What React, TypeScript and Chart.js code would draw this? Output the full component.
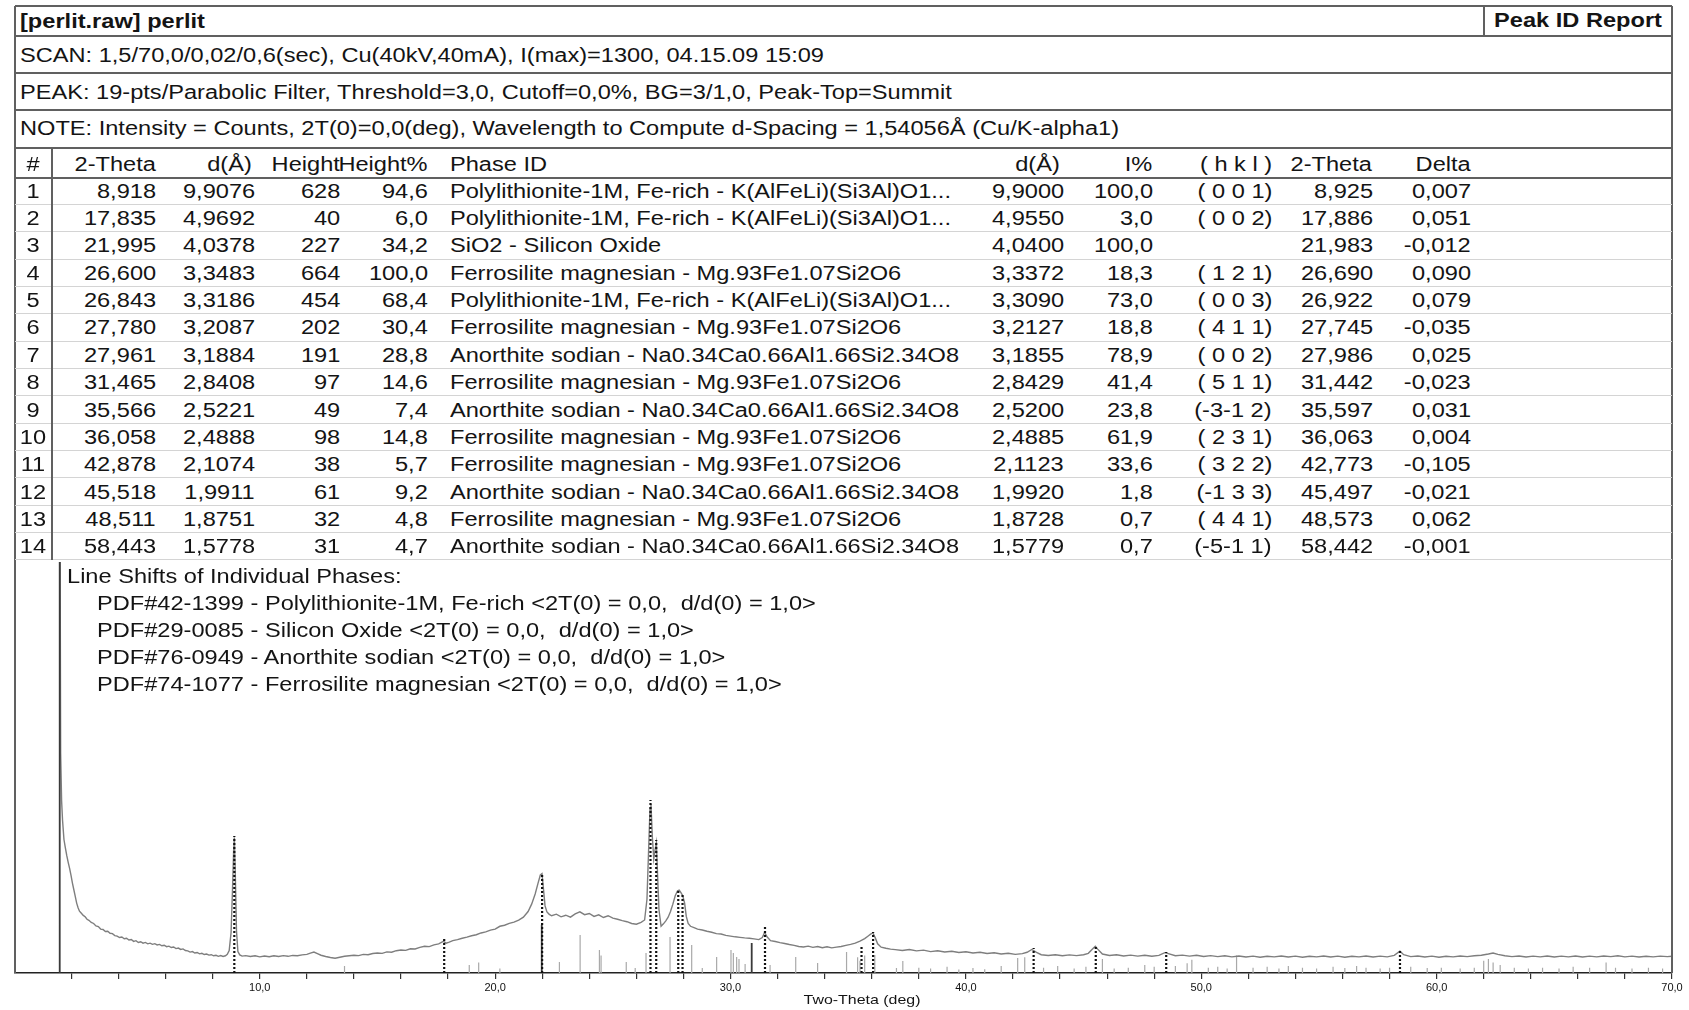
import React, { useEffect, useRef } from "react";
import { Chart, registerables } from "chart.js";

Chart.register(...registerables);

// ---------- report text ----------
const reportTitle = "[perlit.raw] perlit";
const reportKind = "Peak ID Report";
const headerLines = [
  "SCAN: 1,5/70,0/0,02/0,6(sec), Cu(40kV,40mA), I(max)=1300, 04.15.09 15:09",
  "PEAK: 19-pts/Parabolic Filter, Threshold=3,0, Cutoff=0,0%, BG=3/1,0, Peak-Top=Summit",
  "NOTE: Intensity = Counts, 2T(0)=0,0(deg), Wavelength to Compute d-Spacing = 1,54056Å (Cu/K-alpha1)",
];
const columnHeaders = ["#", "2-Theta", "d(Å)", "Height", "Height%", "Phase ID", "d(Å)", "I%", "( h k l )", "2-Theta", "Delta"];

// ---------- peak table ----------
const peakTheta = [8.918, 17.835, 21.995, 26.6, 26.843, 27.78, 27.961, 31.465, 35.566, 36.058, 42.878, 45.518, 48.511, 58.443];
const peakD = [9.9076, 4.9692, 4.0378, 3.3483, 3.3186, 3.2087, 3.1884, 2.8408, 2.5221, 2.4888, 2.1074, 1.9911, 1.8751, 1.5778];
const peakHeight = [628, 40, 227, 664, 454, 202, 191, 97, 49, 98, 38, 61, 32, 31];
const peakHeightPct = [94.6, 6.0, 34.2, 100.0, 68.4, 30.4, 28.8, 14.6, 7.4, 14.8, 5.7, 9.2, 4.8, 4.7];
const POLY = "Polylithionite-1M, Fe-rich - K(AlFeLi)(Si3Al)O1...";
const FERRO = "Ferrosilite magnesian - Mg.93Fe1.07Si2O6";
const ANOR = "Anorthite sodian - Na0.34Ca0.66Al1.66Si2.34O8";
const peakPhase = [POLY, POLY, "SiO2 - Silicon Oxide", FERRO, POLY, FERRO, ANOR, FERRO, ANOR, FERRO, FERRO, ANOR, FERRO, ANOR];
const refD = [9.9, 4.955, 4.04, 3.3372, 3.309, 3.2127, 3.1855, 2.8429, 2.52, 2.4885, 2.1123, 1.992, 1.8728, 1.5779];
const refIPct = [100.0, 3.0, 100.0, 18.3, 73.0, 18.8, 78.9, 41.4, 23.8, 61.9, 33.6, 1.8, 0.7, 0.7];
const refHkl = ["( 0 0 1)", "( 0 0 2)", "", "( 1 2 1)", "( 0 0 3)", "( 4 1 1)", "( 0 0 2)", "( 5 1 1)", "(-3-1 2)", "( 2 3 1)", "( 3 2 2)", "(-1 3 3)", "( 4 4 1)", "(-5-1 1)"];
const refTheta = [8.925, 17.886, 21.983, 26.69, 26.922, 27.745, 27.986, 31.442, 35.597, 36.063, 42.773, 45.497, 48.573, 58.442];
const refDelta = [0.007, 0.051, -0.012, 0.09, 0.079, -0.035, 0.025, -0.023, 0.031, 0.004, -0.105, -0.021, 0.062, -0.001];
// background level under each identified peak (counts); marker top = background + height
const peakBackground = [152, 165, 342, 321, 303, 271, 253, 165, 110, 135, 104, 98, 88, 94];

const lineShiftTitle = "Line Shifts of Individual Phases:";
const lineShifts = [
  "PDF#42-1399 - Polylithionite-1M, Fe-rich <2T(0) = 0,0,  d/d(0) = 1,0>",
  "PDF#29-0085 - Silicon Oxide <2T(0) = 0,0,  d/d(0) = 1,0>",
  "PDF#76-0949 - Anorthite sodian <2T(0) = 0,0,  d/d(0) = 1,0>",
  "PDF#74-1077 - Ferrosilite magnesian <2T(0) = 0,0,  d/d(0) = 1,0>",
];

// ---------- measured scan (2-theta, counts) ----------
const scanLowAngle: [number, number][] = [
  [1.5, 3200], [1.54, 1250], [1.58, 980], [1.62, 870], [1.68, 760], [1.74, 712], [1.8, 668], [1.86, 630], [1.92, 596], [1.98, 556],
  [2.04, 512], [2.1, 474], [2.16, 436], [2.22, 398], [2.28, 372], [2.34, 352], [2.42, 340], [2.5, 328], [2.58, 320], [2.66, 306],
  [2.74, 300], [2.84, 288], [2.94, 282], [3.04, 268], [3.14, 264], [3.24, 250], [3.34, 248], [3.44, 236], [3.54, 238], [3.64, 226],
  [3.74, 224], [3.84, 213], [3.94, 210], [4.04, 202], [4.14, 205], [4.24, 195], [4.34, 198], [4.44, 188], [4.54, 191], [4.64, 180],
  [4.74, 184], [4.84, 174], [4.94, 178], [5.04, 170], [5.14, 174], [5.24, 166], [5.34, 170], [5.44, 163], [5.54, 167], [5.64, 160],
  [5.74, 163], [5.84, 155], [5.94, 158], [6.04, 150], [6.14, 153], [6.24, 145], [6.34, 148], [6.44, 139], [6.54, 142], [6.64, 134],
  [6.74, 137], [6.84, 128], [6.94, 126], [7.04, 119], [7.14, 122], [7.24, 114], [7.34, 117], [7.44, 109], [7.54, 112], [7.64, 105],
  [7.74, 108], [7.84, 102], [7.94, 104], [8.04, 98], [8.14, 101], [8.24, 95], [8.34, 99], [8.44, 94], [8.54, 98], [8.62, 106],
  [8.7, 128], [8.78, 230], [8.84, 470], [8.89, 700], [8.92, 772], [8.96, 560], [9.01, 240], [9.07, 122], [9.15, 103], [9.25, 96],
];
const scanTo22: [number, number][] = [
  [9.4, 99], [9.6, 94], [9.8, 98], [10.0, 92], [10.2, 97], [10.4, 93], [10.6, 98], [10.8, 94], [11.0, 99], [11.2, 95],
  [11.4, 100], [11.6, 98], [11.8, 103], [12.0, 106], [12.15, 113], [12.3, 119], [12.45, 110], [12.6, 101], [12.8, 94], [13.0, 88],
  [13.2, 84], [13.4, 90], [13.6, 95], [13.8, 98], [14.0, 101], [14.2, 99], [14.4, 106], [14.6, 104], [14.8, 111], [15.0, 114],
  [15.2, 112], [15.4, 120], [15.6, 118], [15.8, 127], [16.0, 131], [16.2, 129], [16.4, 138], [16.6, 137], [16.8, 146], [17.0, 152],
  [17.2, 150], [17.4, 160], [17.6, 166], [17.8, 180], [17.92, 170], [18.05, 176], [18.2, 184], [18.4, 190], [18.6, 198], [18.8, 204],
  [19.0, 212], [19.2, 218], [19.4, 228], [19.6, 234], [19.8, 244], [20.0, 250], [20.2, 266], [20.4, 272], [20.6, 283], [20.8, 290],
  [21.0, 301], [21.2, 318], [21.4, 350], [21.55, 392], [21.7, 450], [21.82, 510], [21.92, 558], [21.99, 566], [22.05, 482], [22.12, 382],
  [22.2, 348], [22.3, 334],
];
const scanTo37: [number, number][] = [
  [22.4, 326], [22.6, 335], [22.8, 320], [23.0, 329], [23.2, 318], [23.4, 337], [23.6, 348], [23.8, 332], [24.0, 339], [24.2, 322],
  [24.4, 331], [24.6, 316], [24.8, 326], [25.0, 312], [25.2, 306], [25.4, 298], [25.6, 292], [25.8, 282], [26.0, 278], [26.2, 288],
  [26.35, 302], [26.45, 420], [26.52, 700], [26.58, 940], [26.62, 962], [26.68, 770], [26.74, 650], [26.8, 705], [26.85, 742], [26.9, 560],
  [26.96, 360], [27.05, 266], [27.15, 280], [27.25, 297], [27.35, 318], [27.45, 350], [27.55, 392], [27.65, 440], [27.75, 468], [27.82, 472],
  [27.9, 456], [27.97, 440], [28.05, 398], [28.12, 322], [28.2, 282], [28.3, 266], [28.45, 258], [28.6, 250], [28.8, 245], [29.0, 238],
  [29.2, 232], [29.4, 224], [29.6, 222], [29.8, 214], [30.0, 210], [30.2, 206], [30.4, 203], [30.6, 200], [30.8, 198], [31.0, 194],
  [31.2, 190], [31.35, 202], [31.45, 232], [31.55, 206], [31.7, 184], [31.9, 179], [32.1, 173], [32.3, 168], [32.5, 162], [32.7, 157],
  [32.9, 151], [33.1, 148], [33.3, 153], [33.5, 146], [33.7, 151], [33.9, 144], [34.1, 149], [34.3, 143], [34.5, 147], [34.7, 151],
  [34.9, 157], [35.1, 163], [35.3, 170], [35.5, 182], [35.6, 189], [35.7, 196], [35.85, 211], [35.95, 221], [36.05, 228], [36.15, 200],
  [36.25, 166], [36.4, 147], [36.6, 141], [36.8, 136], [37.0, 133],
];
const scanTo70: [number, number][] = [
  [37.3, 128], [37.6, 134], [37.9, 126], [38.2, 130], [38.5, 122], [38.8, 127], [39.1, 120], [39.4, 124], [39.7, 117], [40.0, 121],
  [40.3, 114], [40.6, 118], [40.9, 111], [41.2, 115], [41.5, 108], [41.8, 112], [42.1, 106], [42.4, 110], [42.6, 118], [42.8, 134],
  [43.0, 118], [43.2, 104], [43.5, 100], [43.8, 104], [44.1, 98], [44.4, 103], [44.7, 99], [45.0, 104], [45.2, 112], [45.4, 140],
  [45.5, 152], [45.6, 136], [45.8, 108], [46.1, 100], [46.4, 104], [46.7, 97], [47.0, 102], [47.3, 96], [47.6, 101], [47.9, 95],
  [48.2, 100], [48.45, 116], [48.6, 110], [48.9, 98], [49.2, 102], [49.5, 96], [49.8, 101], [50.1, 94], [50.4, 99], [50.7, 93],
  [51.0, 98], [51.3, 92], [51.6, 97], [51.9, 91], [52.2, 96], [52.5, 90], [52.8, 95], [53.1, 92], [53.4, 97], [53.7, 91],
  [54.0, 96], [54.3, 90], [54.6, 95], [54.9, 92], [55.2, 97], [55.5, 91], [55.8, 96], [56.1, 90], [56.4, 95], [56.7, 92],
  [57.0, 97], [57.3, 91], [57.6, 96], [57.9, 92], [58.2, 100], [58.44, 124], [58.6, 104], [58.9, 93], [59.2, 97], [59.5, 91],
  [59.8, 96], [60.1, 90], [60.4, 95], [60.7, 92], [61.0, 97], [61.3, 93], [61.6, 98], [61.9, 101], [62.2, 108], [62.4, 114],
  [62.6, 106], [62.9, 98], [63.2, 93], [63.5, 97], [63.8, 91], [64.1, 96], [64.4, 92], [64.7, 97], [65.0, 91], [65.3, 96],
  [65.6, 92], [65.9, 97], [66.2, 91], [66.5, 96], [66.8, 92], [67.1, 97], [67.4, 93], [67.7, 98], [68.0, 92], [68.3, 96],
  [68.6, 91], [68.9, 95], [69.2, 92], [69.5, 96], [69.8, 93], [70.0, 95],
];

// ---------- reference pattern lines (2-theta, counts) ----------
const referenceLines: [number, number][] = [
  [13.6, 40], [18.9, 45], [19.3, 60], [20.2, 25], [22.73, 63], [23.61, 216], [24.43, 131], [24.5, 100], [25.57, 63], [25.95, 28],
  [26.41, 114], [27.43, 205], [28.35, 160], [28.8, 28], [29.41, 91], [30.02, 131], [30.12, 114], [30.26, 91], [30.36, 80], [30.62, 51],
  [31.68, 46], [32.77, 91], [33.7, 57], [34.93, 120], [35.4, 90], [35.5, 70], [35.7, 100], [36.13, 103], [37.05, 28], [37.32, 68],
  [38.0, 30], [38.5, 25], [39.2, 35], [39.7, 20], [40.3, 28], [40.8, 22], [41.5, 40], [42.2, 85], [42.5, 90], [43.3, 30],
  [43.9, 40], [44.6, 25], [45.1, 35], [45.8, 80], [46.3, 25], [46.9, 30], [47.6, 45], [48.0, 35], [48.9, 40], [49.4, 55],
  [49.6, 75], [50.3, 30], [50.7, 35], [51.1, 25], [51.5, 100], [52.2, 30], [52.8, 35], [53.3, 25], [53.7, 40], [54.3, 30],
  [54.9, 25], [55.6, 35], [56.1, 28], [56.6, 40], [57.0, 30], [57.6, 25], [58.0, 30], [58.9, 35], [59.6, 28], [60.2, 30],
  [61.0, 25], [61.6, 30], [62.0, 70], [62.2, 80], [62.4, 60], [62.7, 45], [63.3, 30], [63.9, 25], [64.5, 30], [65.2, 25],
  [65.8, 35], [66.5, 30], [67.2, 60], [67.6, 30], [68.3, 25], [69.0, 30], [69.6, 25],
];
const strongReferenceLines: [number, number][] = [[21.98, 274], [30.9, 171]];

// axis
const X_MIN = -0.4;
const X_MAX = 70;
const Y_MAX = 2340;
const tickValues = [2, 4, 6, 8, 10, 12, 14, 16, 18, 20, 22, 24, 26, 28, 30, 32, 34, 36, 38, 40, 42, 44, 46, 48, 50, 52, 54, 56, 58, 60, 62, 64, 66, 68, 70];

// ---------- layout ----------
const PAGE_W = 1689;
const PAGE_H = 1010;
const FONT = '"Liberation Sans", Arial, Helvetica, sans-serif';
const SX = 1.18;
const BOX_L = 15;
const BOX_R = 1672;
const BOX_T = 6;
const AXIS_Y = 973;
const ROW0_Y = 190.7;
const ROW_H = 27.35;
const RULE = "#606060";

const fmt = (v: number, d: number) => v.toFixed(d).replace(".", ",");

type Align = "left" | "right" | "center";
function Txt({ x, y, text, align = "left", bold = false, size = 20 }: { x: number; y: number; text: string; align?: Align; bold?: boolean; size?: number }) {
  const lh = Math.round(size * 1.2);
  const style: React.CSSProperties = {
    position: "absolute",
    top: y - lh / 2,
    height: lh,
    lineHeight: `${lh}px`,
    fontSize: size,
    fontFamily: FONT,
    fontWeight: bold ? 700 : 400,
    whiteSpace: "pre",
    color: "#141414",
  };
  if (align === "left") {
    style.left = x;
    style.transformOrigin = "left center";
    style.transform = `scaleX(${SX})`;
  } else if (align === "right") {
    style.right = PAGE_W - x;
    style.transformOrigin = "right center";
    style.transform = `scaleX(${SX})`;
  } else {
    style.left = x;
    style.transformOrigin = "center center";
    style.transform = `translateX(-50%) scaleX(${SX})`;
  }
  return <div style={style}>{text}</div>;
}

function HLine({ y, x1, x2, color = RULE, w = 1.5 }: { y: number; x1: number; x2: number; color?: string; w?: number }) {
  return <div style={{ position: "absolute", left: x1, top: y - w / 2, width: x2 - x1, height: w, background: color }} />;
}
function VLine({ x, y1, y2, color = RULE, w = 1.5 }: { x: number; y1: number; y2: number; color?: string; w?: number }) {
  return <div style={{ position: "absolute", left: x - w / 2, top: y1, width: w, height: y2 - y1, background: color }} />;
}

const toSegments = (lines: [number, number][]) =>
  lines.flatMap(([x, h]) => [
    { x, y: 0 },
    { x, y: h },
    { x, y: null as number | null },
  ]);

const CANVAS_TOP = 555;
const CANVAS_H = PAGE_H - CANVAS_TOP;

export default function App() {
  const canvasRef = useRef<HTMLCanvasElement>(null);

  useEffect(() => {
    const canvas = canvasRef.current;
    if (!canvas) return;
    const profile = [...scanLowAngle, ...scanTo22, ...scanTo37, ...scanTo70];
    const profilePts = profile.map(([x, y]) => ({ x, y }));
    const scanEdge: [number, number] = [profile[0][0], profile[0][1]];
    const strongPts = toSegments([scanEdge, ...strongReferenceLines]);
    const stickPts = toSegments(referenceLines);
    const markerPts = toSegments(peakTheta.map((t, i) => [t, peakBackground[i] + peakHeight[i]] as [number, number]));

    const chart = new Chart(canvas, {
      type: "line",
      data: {
        datasets: [
          { label: "peaks", data: markerPts, borderColor: "#111", borderWidth: 2.2, borderDash: [2, 2], pointRadius: 0, spanGaps: false, order: 0 },
          { label: "strong lines", data: strongPts, borderColor: "#3a3a3a", borderWidth: 1.8, pointRadius: 0, spanGaps: false, order: 1 },
          { label: "scan", data: profilePts, borderColor: "#7e7e7e", borderWidth: 1.4, pointRadius: 0, tension: 0, order: 2 },
          { label: "reference lines", data: stickPts, borderColor: "#a9a9a9", borderWidth: 1.2, pointRadius: 0, spanGaps: false, order: 3 },
        ] as any,
      },
      options: {
        animation: false,
        responsive: false,
        events: [],
        layout: { padding: { left: BOX_L, right: PAGE_W - BOX_R, top: 562 - CANVAS_TOP, bottom: 0 } },
        plugins: { legend: { display: false }, tooltip: { enabled: false } },
        scales: {
          x: {
            type: "linear",
            min: X_MIN,
            max: X_MAX,
            afterBuildTicks: (s: any) => {
              s.ticks = tickValues.map((v) => ({ value: v }));
            },
            afterFit: (s: any) => {
              s.height = CANVAS_TOP + CANVAS_H - AXIS_Y;
            },
            ticks: {
              autoSkip: false,
              maxRotation: 0,
              minRotation: 0,
              padding: 2,
              color: "#111",
              font: { family: FONT, size: 11 },
              callback: (v: any) => (Number(v) % 10 === 0 ? fmt(Number(v), 1) : ""),
            },
            grid: { drawOnChartArea: false, drawTicks: true, tickLength: 6, color: "#333", lineWidth: 1.2 },
            border: { display: true, color: "#222", width: 1.6 },
          },
          y: { display: false, min: 0, max: Y_MAX },
        },
      } as any,
    });
    return () => chart.destroy();
  }, []);

  const headerXs: { x: number; align: Align }[] = [
    { x: 33, align: "center" },
    { x: 156, align: "right" },
    { x: 252, align: "right" },
    { x: 340, align: "right" },
    { x: 428, align: "right" },
    { x: 450, align: "left" },
    { x: 1060, align: "right" },
    { x: 1152, align: "right" },
    { x: 1272, align: "right" },
    { x: 1372, align: "right" },
    { x: 1471, align: "right" },
  ];
  const headerY = 163.5;
  const rowLines = peakTheta.map((_, i) => ROW0_Y + ROW_H / 2 + i * ROW_H);

  return (
    <div style={{ position: "absolute", left: 0, top: 0, width: PAGE_W, height: PAGE_H, background: "#fff", overflow: "hidden" }}>
      <canvas ref={canvasRef} width={PAGE_W} height={CANVAS_H} style={{ position: "absolute", left: 0, top: CANVAS_TOP, width: PAGE_W, height: CANVAS_H }} />

      {/* frame */}
      <HLine y={BOX_T} x1={BOX_L} x2={BOX_R} />
      <VLine x={BOX_L} y1={BOX_T} y2={AXIS_Y} />
      <VLine x={BOX_R} y1={BOX_T} y2={AXIS_Y} />
      <VLine x={1484} y1={BOX_T} y2={36} />
      {[36, 73, 110, 148, 178].map((y) => (
        <HLine key={y} y={y} x1={BOX_L} x2={BOX_R} />
      ))}
      {rowLines.map((y, i) => (
        <HLine key={"r" + i} y={y} x1={BOX_L} x2={BOX_R} color="#d4d4d4" w={1} />
      ))}
      <VLine x={52} y1={148} y2={rowLines[rowLines.length - 1]} />

      {/* header */}
      <Txt x={20} y={20.5} text={reportTitle} bold />
      <Txt x={1578} y={20} text={reportKind} bold align="center" />
      {headerLines.map((t, i) => (
        <Txt key={i} x={20} y={55 + i * 36.7} text={t} />
      ))}
      {columnHeaders.map((t, i) => (
        <Txt key={"h" + i} x={headerXs[i].x} y={headerY} text={t} align={headerXs[i].align} />
      ))}

      {/* rows */}
      {peakTheta.map((t, i) => {
        const y = ROW0_Y + i * ROW_H;
        return (
          <React.Fragment key={"row" + i}>
            <Txt x={33} y={y} text={String(i + 1)} align="center" />
            <Txt x={156} y={y} text={fmt(t, 3)} align="right" />
            <Txt x={255} y={y} text={fmt(peakD[i], 4)} align="right" />
            <Txt x={340} y={y} text={String(peakHeight[i])} align="right" />
            <Txt x={428} y={y} text={fmt(peakHeightPct[i], 1)} align="right" />
            <Txt x={450} y={y} text={peakPhase[i]} />
            <Txt x={1064} y={y} text={fmt(refD[i], 4)} align="right" />
            <Txt x={1153} y={y} text={fmt(refIPct[i], 1)} align="right" />
            <Txt x={1272} y={y} text={refHkl[i]} align="right" />
            <Txt x={1373} y={y} text={fmt(refTheta[i], 3)} align="right" />
            <Txt x={1471} y={y} text={fmt(refDelta[i], 3)} align="right" />
          </React.Fragment>
        );
      })}

      {/* line shifts */}
      <Txt x={67} y={576} text={lineShiftTitle} />
      {lineShifts.map((t, i) => (
        <Txt key={"ls" + i} x={97} y={603 + i * 27} text={t} />
      ))}

      <Txt x={862} y={1000} text="Two-Theta (deg)" size={13.5} align="center" />
    </div>
  );
}
